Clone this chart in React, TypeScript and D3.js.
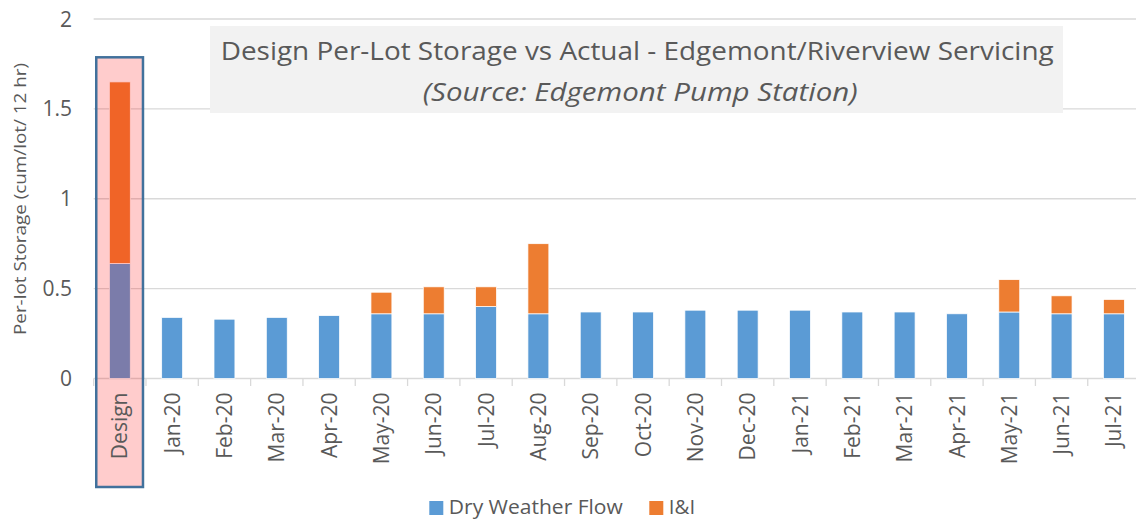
import { useEffect, useRef } from 'react'
import * as d3 from 'd3'

// Categories and values
const categories = [
  'Design', 'Jan-20', 'Feb-20', 'Mar-20', 'Apr-20', 'May-20', 'Jun-20', 'Jul-20', 'Aug-20',
  'Sep-20', 'Oct-20', 'Nov-20', 'Dec-20', 'Jan-21', 'Feb-21', 'Mar-21', 'Apr-21', 'May-21',
  'Jun-21', 'Jul-21',
]
const dryWeatherFlow = [
  0.64, 0.34, 0.33, 0.34, 0.35, 0.36, 0.36, 0.40, 0.36,
  0.37, 0.37, 0.38, 0.38, 0.38, 0.37, 0.37, 0.36, 0.37,
  0.36, 0.36,
]
const inflowInfiltration = [
  1.01, 0, 0, 0, 0, 0.12, 0.15, 0.11, 0.39,
  0, 0, 0, 0, 0, 0, 0, 0, 0.18,
  0.10, 0.08,
]
const yTicks = [0, 0.5, 1, 1.5, 2]
const seriesNames = ['Dry Weather Flow', 'I&I']

const COLORS = {
  dwf: '#5b9bd5',
  ii: '#ed7d31',
  grid: '#d9d9d9',
  text: '#595959',
  titleBox: '#f2f2f2',
  highlightStroke: '#41719c',
}

const WIDTH = 1136
const HEIGHT = 520
const FONT = '"Open Sans", sans-serif'

function App() {
  const ref = useRef<SVGSVGElement | null>(null)

  useEffect(() => {
    if (!ref.current) return
    const svg = d3.select(ref.current)
    svg.selectAll('*').remove()

    const plotLeft = 93.66
    const plotRight = 1140.06
    const y = d3.scaleLinear().domain([0, 2]).range([378.5, 19])
    const x = d3.scaleBand<string>()
      .domain(categories)
      .range([plotLeft, plotRight])
      .paddingInner(0.6)
      .paddingOuter(0.3)
    const step = x.step()
    const bw = x.bandwidth()

    // gridlines
    svg.append('g')
      .selectAll('line')
      .data(yTicks)
      .enter()
      .append('line')
      .attr('x1', plotLeft)
      .attr('x2', plotRight)
      .attr('y1', d => y(d))
      .attr('y2', d => y(d))
      .attr('stroke', COLORS.grid)
      .attr('stroke-width', 1.3)

    // category tick marks
    const boundaries = categories.map(c => (x(c) as number) - (step - bw) / 2)
    svg.append('g')
      .selectAll('line')
      .data(boundaries)
      .enter()
      .append('line')
      .attr('x1', d => d)
      .attr('x2', d => d)
      .attr('y1', y(0))
      .attr('y2', y(0) + 7.5)
      .attr('stroke', COLORS.grid)
      .attr('stroke-width', 1.3)

    // stacked bars
    const rows = categories.map((c, i) => ({ cat: c, dwf: dryWeatherFlow[i], ii: inflowInfiltration[i] }))
    const stack = d3.stack<any>().keys(['dwf', 'ii'])(rows)
    const colorOf: Record<string, string> = { dwf: COLORS.dwf, ii: COLORS.ii }

    stack.forEach(layer => {
      svg.append('g')
        .selectAll('rect')
        .data(layer.filter(d => d[1] - d[0] > 0))
        .enter()
        .append('rect')
        .attr('x', d => x(d.data.cat) as number)
        .attr('width', bw)
        .attr('y', d => y(d[1]))
        .attr('height', d => y(d[0]) - y(d[1]))
        .attr('fill', colorOf[layer.key])
        .attr('stroke', '#ffffff')
        .attr('stroke-width', 0.75)
    })

    // highlight box over the Design column
    const designX = boundaries[0]
    svg.append('rect')
      .attr('x', designX + 2.6)
      .attr('y', 57.3)
      .attr('width', step - 5.6)
      .attr('height', 429.7)
      .attr('fill', 'rgba(255,0,0,0.2)')
      .attr('stroke', COLORS.highlightStroke)
      .attr('stroke-width', 2.5)

    // y tick labels
    svg.append('g')
      .selectAll('text')
      .data(yTicks)
      .enter()
      .append('text')
      .attr('x', 72)
      .attr('y', d => y(d))
      .attr('dy', '0.36em')
      .attr('text-anchor', 'end')
      .attr('font-family', FONT)
      .attr('font-size', 21)
      .attr('fill', COLORS.text)
      .text(d => String(d))

    // x tick labels (rotated)
    svg.append('g')
      .selectAll('text')
      .data(categories)
      .enter()
      .append('text')
      .attr('transform', d => `translate(${(x(d) as number) + bw / 2},392.5) rotate(-90)`)
      .attr('dy', '0.36em')
      .attr('text-anchor', 'end')
      .attr('font-family', FONT)
      .attr('font-size', 21)
      .attr('fill', COLORS.text)
      .text(d => d)

    // y axis title
    svg.append('text')
      .attr('transform', 'translate(25.5,199) rotate(-90)')
      .attr('text-anchor', 'middle')
      .attr('font-family', FONT)
      .attr('font-size', 17)
      .attr('fill', COLORS.text)
      .attr('textLength', 272)
      .attr('lengthAdjust', 'spacingAndGlyphs')
      .text('Per-lot Storage (cum/lot/ 12 hr)')

    // title box
    svg.append('rect')
      .attr('x', 210)
      .attr('y', 26)
      .attr('width', 853)
      .attr('height', 87)
      .attr('fill', COLORS.titleBox)

    svg.append('text')
      .attr('x', 220.7)
      .attr('y', 60.3)
      .attr('font-family', FONT)
      .attr('font-size', 26)
      .attr('fill', COLORS.text)
      .attr('textLength', 833)
      .attr('lengthAdjust', 'spacingAndGlyphs')
      .text('Design Per-Lot Storage vs Actual - Edgemont/Riverview Servicing')

    svg.append('text')
      .attr('x', 422.7)
      .attr('y', 100.5)
      .attr('font-family', FONT)
      .attr('font-style', 'italic')
      .attr('font-size', 26)
      .attr('fill', COLORS.text)
      .attr('textLength', 435)
      .attr('lengthAdjust', 'spacingAndGlyphs')
      .text('(Source: Edgemont Pump Station)')

    // legend
    const legendItems = [
      { name: seriesNames[0], color: COLORS.dwf, x: 429.3, textLen: 174 },
      { name: seriesNames[1], color: COLORS.ii, x: 649.3, textLen: 26.3 },
    ]
    const lg = svg.append('g')
    legendItems.forEach(item => {
      lg.append('rect')
        .attr('x', item.x)
        .attr('y', 501)
        .attr('width', 14)
        .attr('height', 14)
        .attr('fill', item.color)
      lg.append('text')
        .attr('x', item.x + 19.5)
        .attr('y', 514.3)
        .attr('font-family', FONT)
        .attr('font-size', 20)
        .attr('fill', COLORS.text)
        .attr('textLength', item.textLen)
        .attr('lengthAdjust', 'spacingAndGlyphs')
        .text(item.name)
    })
  }, [])

  return (
    <svg
      ref={ref}
      width={WIDTH}
      height={HEIGHT}
      style={{ position: 'absolute', left: 0, top: 0, background: '#ffffff' }}
    />
  )
}

export default App
